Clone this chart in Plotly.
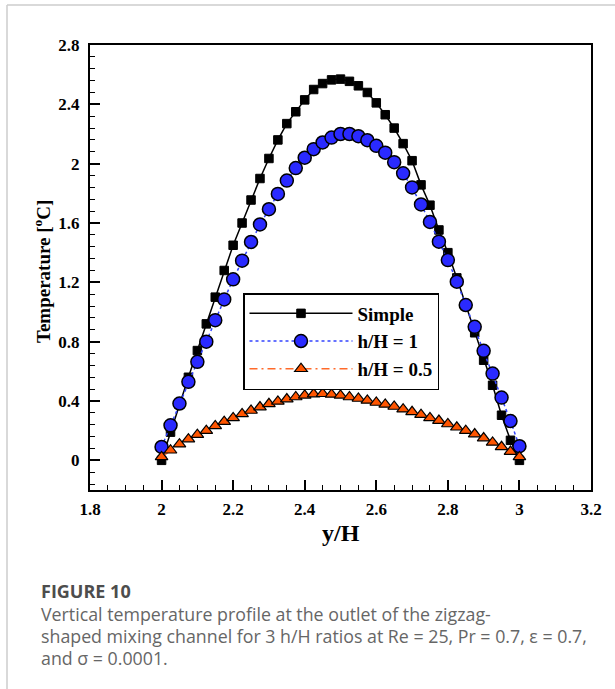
import plotly.graph_objects as go

# ---------------- data ----------------
y_over_H = [2.0, 2.025, 2.05, 2.075, 2.1, 2.125, 2.15, 2.175, 2.2, 2.225,
            2.25, 2.275, 2.3, 2.325, 2.35, 2.375, 2.4, 2.425, 2.45, 2.475,
            2.5, 2.525, 2.55, 2.575, 2.6, 2.625, 2.65, 2.675, 2.7, 2.725,
            2.75, 2.775, 2.8, 2.825, 2.85, 2.875, 2.9, 2.925, 2.95, 2.975, 3.0]

temp_simple = [0.00, 0.19, 0.38, 0.56, 0.74, 0.92, 1.10, 1.28, 1.45, 1.60,
               1.755, 1.90, 2.035, 2.16, 2.27, 2.35, 2.43, 2.50, 2.54, 2.565,
               2.57, 2.555, 2.525, 2.48, 2.41, 2.33, 2.24, 2.135, 2.02, 1.857,
               1.72, 1.553, 1.40, 1.23, 1.05, 0.86, 0.675, 0.506, 0.304, 0.135, 0.0]

temp_h1 = [0.09, 0.236, 0.383, 0.529, 0.664, 0.80, 0.945, 1.085, 1.22, 1.346,
           1.472, 1.59, 1.693, 1.796, 1.886, 1.97, 2.04, 2.098, 2.143, 2.176,
           2.20, 2.20, 2.185, 2.158, 2.12, 2.074, 2.01, 1.935, 1.84, 1.725,
           1.607, 1.474, 1.35, 1.204, 1.047, 0.90, 0.738, 0.585, 0.423, 0.265, 0.095]

temp_h05 = [0.023, 0.068, 0.109, 0.143, 0.173, 0.200, 0.232, 0.261, 0.286, 0.313,
            0.336, 0.359, 0.381, 0.397, 0.413, 0.427, 0.438, 0.447, 0.449, 0.444,
            0.438, 0.427, 0.417, 0.404, 0.390, 0.377, 0.363, 0.345, 0.327, 0.308,
            0.286, 0.268, 0.245, 0.223, 0.200, 0.177, 0.150, 0.121, 0.091, 0.059, 0.023]

series_names = ["Simple", "h/H = 1", "h/H = 0.5"]

x_tickvals = [1.8, 2.0, 2.2, 2.4, 2.6, 2.8, 3.0, 3.2]
x_ticktext = ["1.8", "2", "2.2", "2.4", "2.6", "2.8", "3", "3.2"]
y_tickvals = [0, 0.4, 0.8, 1.2, 1.6, 2.0, 2.4, 2.8]
y_ticktext = ["0", "0.4", "0.8", "1.2", "1.6", "2", "2.4", "2.8"]

x_title = "y/H"
y_title = "Temperature [<sup>o</sup>C]"
caption_head = "FIGURE 10"
caption_lines = [
    "Vertical temperature profile at the outlet of the zigzag-",
    "shaped mixing channel for 3 h/H ratios at Re = 25, Pr = 0.7, \u03b5 = 0.7,",
    "and \u03c3 = 0.0001.",
]

# ---------------- figure ----------------
W, H = 615, 689
ML, MR, MT, MB = 90, 24, 45, 199
PW, PH = W - ML - MR, H - MT - MB

def px_x(px):
    return (px - ML) / PW

def px_y(py):
    return (H - MB - py) / PH

serif = "Liberation Serif, Times New Roman, serif"

fig = go.Figure()
fig.add_trace(go.Scatter(
    x=y_over_H, y=temp_simple, name=series_names[0], mode="lines+markers",
    line=dict(color="black", width=1.5),
    marker=dict(symbol="square", size=8.5, color="black",
                line=dict(color="black", width=1)),
))
fig.add_trace(go.Scatter(
    x=y_over_H, y=temp_h1, name=series_names[1], mode="lines+markers",
    line=dict(color="#3344ff", width=1.5, dash="dot"),
    marker=dict(symbol="circle", size=13, color="#2a2aff",
                line=dict(color="black", width=1.5)),
))
fig.add_trace(go.Scatter(
    x=y_over_H, y=temp_h05, name=series_names[2], mode="lines+markers",
    line=dict(color="#ff6a2a", width=1.5, dash="8px,4px,2px,4px"),
    marker=dict(symbol="triangle-up", size=11, color="#ff5500",
                line=dict(color="black", width=1.2)),
))

axis_common = dict(
    showgrid=False, zeroline=False, showline=True, linecolor="black",
    linewidth=2, mirror=True, ticks="inside", ticklen=10, tickwidth=1.5,
    tickcolor="black",
    tickfont=dict(family=serif, size=17, color="black", weight="bold"),
)

fig.update_xaxes(
    range=[1.8, 3.2], tickvals=x_tickvals, ticktext=x_ticktext,
    minor=dict(dtick=0.05, tick0=1.8, ticks="inside", ticklen=5,
               tickwidth=1.2, tickcolor="black"),
    ticklabelstandoff=3,
    **axis_common,
)
fig.update_yaxes(
    range=[-0.2, 2.8], tickvals=y_tickvals, ticktext=y_ticktext,
    minor=dict(dtick=0.08, tick0=0, ticks="inside", ticklen=5,
               tickwidth=1.2, tickcolor="black"),
    ticklabelstandoff=5,
    **axis_common,
)

annotations = [
    dict(text=x_title, x=px_x(341), y=px_y(533), xref="paper", yref="paper",
         showarrow=False, xanchor="center", yanchor="middle",
         font=dict(family=serif, size=24, color="black", weight="bold")),
    dict(text=y_title, x=px_x(42), y=px_y(272), xref="paper", yref="paper",
         showarrow=False, xanchor="center", yanchor="middle", textangle=-90,
         font=dict(family=serif, size=19, color="black", weight="bold")),
    dict(text=caption_head, x=px_x(39), y=px_y(591), xref="paper", yref="paper",
         showarrow=False, xanchor="left", yanchor="middle",
         font=dict(family="Open Sans, sans-serif", size=18, color="#4d4d4d",
                   weight="bold")),
]
for i, line in enumerate(caption_lines):
    annotations.append(dict(
        text=line, x=px_x(39), y=px_y(614 + 22 * i), xref="paper", yref="paper",
        showarrow=False, xanchor="left", yanchor="middle",
        font=dict(family="Open Sans, sans-serif", size=17.8, color="#666666")))

shapes = [
    dict(type="line", xref="paper", yref="paper",
         x0=px_x(7), x1=px_x(615), y0=px_y(5), y1=px_y(5),
         line=dict(color="#cccccc", width=1.5)),
    dict(type="line", xref="paper", yref="paper",
         x0=px_x(7), x1=px_x(7), y0=px_y(5), y1=px_y(689),
         line=dict(color="#cccccc", width=1.5)),
]

fig.update_layout(
    width=W, height=H,
    margin=dict(l=ML, r=MR, t=MT, b=MB, pad=0),
    paper_bgcolor="white", plot_bgcolor="white",
    showlegend=True,
    legend=dict(
        x=px_x(243), y=px_y(293), xanchor="left", yanchor="top",
        bgcolor="white", bordercolor="black", borderwidth=1.5,
        font=dict(family=serif, size=19, color="black", weight="bold"),
        itemwidth=103, tracegroupgap=0,
    ),
    annotations=annotations,
    shapes=shapes,
)

fig.write_html("out.html")
